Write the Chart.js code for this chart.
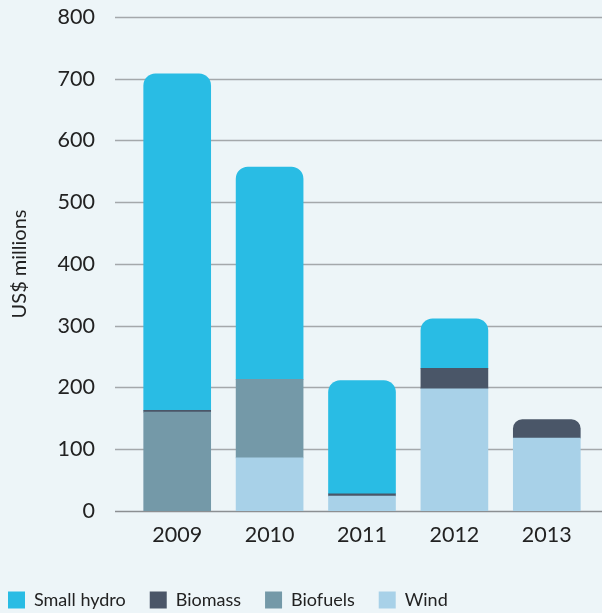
<!DOCTYPE html>
<html lang="en">
<head>
   <meta charset="UTF-8">
   <title>Clean energy investment</title>
   <script src="https://cdn.jsdelivr.net/npm/chart.js@4.4.1/dist/chart.umd.min.js"></script>
   <style>
      html, body { margin: 0; padding: 0; background: #edf5f8; }
      #wrap { width: 602px; height: 613px; }
   </style>
</head>
<body>
   <div id="wrap"><canvas id="myChart"></canvas></div>
   <script>
      const years = ['2009', '2010', '2011', '2012', '2013'];
      const smallHydro = [545, 344, 183, 80, 0];
      const biomass = [3, 0, 4, 33, 30];
      const biofuels = [160, 127, 0, 0, 0];
      const wind = [0, 86, 24, 198, 118];
      const yTicks = [0, 100, 200, 300, 400, 500, 600, 700, 800];

      // bottom to top in the stack
      const series = [
         { label: 'Wind', data: wind, color: '#a8d1e8' },
         { label: 'Biofuels', data: biofuels, color: '#7499a8' },
         { label: 'Biomass', data: biomass, color: '#4a5668' },
         { label: 'Small hydro', data: smallHydro, color: '#29bce4' }
      ];

      function isTop(dsIndex, i) {
         if (!(series[dsIndex].data[i] > 0)) return false;
         for (let k = dsIndex + 1; k < series.length; k++) {
            if (series[k].data[i] > 0) return false;
         }
         return true;
      }

      const gridLines = {
         id: 'gridLines',
         beforeDatasetsDraw(chart) {
            const ctx = chart.ctx;
            const y = chart.scales.y;
            ctx.save();
            yTicks.forEach(v => {
               const py = Math.round(y.getPixelForValue(v)) + 0.5;
               ctx.strokeStyle = v === 0 ? '#8c8f92' : '#a4a8ab';
               ctx.lineWidth = 1.5;
               ctx.beginPath();
               ctx.moveTo(115, py);
               ctx.lineTo(chart.width, py);
               ctx.stroke();
            });
            ctx.restore();
         }
      };

      // fixed legend height and left offset so the boxes sit like the original
      const legendPlace = {
         id: 'legendPlace',
         beforeInit(chart) {
            const fit = chart.legend.fit;
            chart.legend.fit = function () {
               fit.call(this);
               this.height = 46;
            };
         },
         afterLayout(chart) {
            chart.legend.left = -16;
         }
      };

      const config = {
         type: 'bar',
         data: {
            labels: years,
            datasets: series.map((s, di) => ({
               label: s.label,
               data: s.data.map(v => v > 0 ? v : null), // skip empty segments
               backgroundColor: s.color,
               borderWidth: 0,
               borderSkipped: false,
               borderRadius: c => isTop(di, c.dataIndex)
                  ? { topLeft: 12, topRight: 12, bottomLeft: 0, bottomRight: 0 }
                  : 0,
               barThickness: 67
            }))
         },
         plugins: [gridLines, legendPlace],
         options: {
            responsive: true,
            maintainAspectRatio: false,
            animation: false,
            layout: { padding: { left: 0, right: 9, top: 16, bottom: 0 } },
            plugins: {
               tooltip: { enabled: false },
               legend: {
                  position: 'bottom',
                  align: 'start',
                  reverse: true,
                  labels: {
                     boxWidth: 17,
                     boxHeight: 17,
                     padding: 24,
                     color: '#222',
                     font: { family: 'Lato', size: 18 }
                  }
               }
            },
            scales: {
               x: {
                  stacked: true,
                  afterFit: s => { s.height = 56; },
                  grid: { display: false, drawTicks: false },
                  border: { display: false },
                  ticks: { color: '#222', font: { family: 'Lato', size: 21.5 }, padding: 11 }
               },
               y: {
                  stacked: true,
                  min: 0,
                  max: 800,
                  afterFit: s => { s.width = 131; },
                  afterBuildTicks: s => { s.ticks = yTicks.map(v => ({ value: v })); },
                  grid: { display: false, drawTicks: true, tickLength: 32 },
                  border: { display: false },
                  ticks: { color: '#222', font: { family: 'Lato', size: 21.5 }, padding: 4 },
                  title: {
                     display: true,
                     text: 'US$ millions',
                     color: '#222',
                     font: { family: 'Lato', size: 20 },
                     padding: { top: 8, bottom: 0 }
                  }
               }
            }
         }
      };

      new Chart(document.getElementById('myChart'), config);
   </script>
</body>
</html>
